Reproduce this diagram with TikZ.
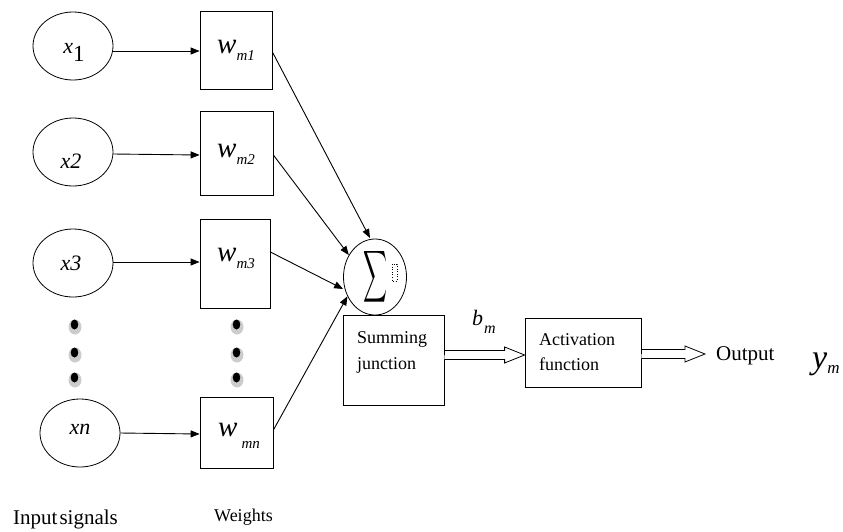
\documentclass[tikz,border=0pt]{standalone}
\usepackage{fontspec}
\usepackage{graphicx}
\setmainfont{Liberation Serif}
\usetikzlibrary{shapes.geometric,arrows.meta,calc}
\begin{document}
\begin{tikzpicture}[x=1pt,y=-1pt,
  inp/.style={draw,ellipse,line width=0.8pt,minimum width=80pt,minimum height=68pt,inner sep=0pt},
  wbox/.style={draw,rectangle,line width=0.8pt,inner sep=0pt},
  conn/.style={line width=0.9pt,-{Triangle[length=9pt,width=7pt]}},
  lbl/.style={font=\fontsize{18}{20}\selectfont,inner sep=0pt,anchor=base west},
  wtxt/.style={font=\fontsize{29}{30}\selectfont\itshape,inner sep=0pt},
  xtxt/.style={font=\fontsize{22}{24}\selectfont\itshape,inner sep=0pt},
  hollow/.style={line width=0.8pt,fill=white}
]
\useasboundingbox (0,0) rectangle (843,531);

% input ellipses
\node[inp] (x1) at (73,46) {};
\node[inp] (x2) at (73,152) {};
\node[inp] (x3) at (73,263) {};
\node[inp] (xn) at (80,433) {};
\node[xtxt] at (74,52) {x\raisebox{-8pt}{\upshape\fontsize{23}{24}\selectfont 1}};
\node[xtxt] at (71,161) {x2};
\node[xtxt] at (71,263) {x3};
\node[xtxt] at (80,429) {xn};

% weight boxes
\node[wbox,minimum width=72pt,minimum height=78pt] (w1) at (236,50) {};
\node[wbox,minimum width=73pt,minimum height=84pt] (w2) at (236.5,153) {};
\node[wbox,minimum width=70pt,minimum height=89pt] (w3) at (235,263.5) {};
\node[wbox,minimum width=73pt,minimum height=71pt] (wn) at (236.5,432.5) {};
\node[wtxt] at (236,50) {w\raisebox{-7pt}{\fontsize{15}{16}\selectfont m1}};
\node[wtxt] at (236,154) {w\raisebox{-7pt}{\fontsize{15}{16}\selectfont m2}};
\node[wtxt] at (236,258) {w\raisebox{-7pt}{\fontsize{15}{16}\selectfont m3}};
\node[wtxt] at (239,436) {w\hspace{4pt}\raisebox{-12pt}{\fontsize{15}{16}\selectfont mn}};

% input to weight connectors
\draw[conn] (x1.east |- 0,51) -- (w1.west |- 0,51);
\draw[conn] (x2.east |- 0,154) -- (w2.west |- 0,155);
\draw[conn] (x3.east |- 0,262) -- (w3.west |- 0,262);
\draw[conn] (xn.east) -- (wn.west |- 0,434);

% dots
\foreach \xx in {75,237}{
  \foreach \yy in {325,353,378}{
    \fill[gray!40] (\xx,\yy+2) circle[x radius=6.5pt,y radius=7.5pt];
    \fill[black] (\xx-0.5,\yy-0.5) circle[x radius=3.8pt,y radius=5pt];
  }
}

% summing circle
\node[draw,ellipse,line width=0.8pt,minimum width=63pt,minimum height=76pt,inner sep=0pt] (sig) at (375,277) {};
\node[inner sep=0pt] (sigma) at (375,277) {\resizebox{24pt}{38pt}{$\displaystyle\sum$}};
\draw[dotted,line width=0.6pt] (392,264) rectangle (397,281);

% weight to sum connectors
\draw[conn] (w1.east |- 0,52) -- (370,238);
\draw[conn] (w2.east |- 0,155) -- (sig.140);
\draw[conn] (w3.east |- 0,252) -- (sig.west |- 0,289);
\draw[conn] (wn.east |- 0,430) -- (sig.-145);

% summing junction box
\node[wbox,minimum width=101pt,minimum height=90pt] (sj) at (393.5,360) {};
\node[lbl] (sj1) at (357,343) {Summing};
\node[lbl] (sj2) at (357,369) {junction};

% activation box
\node[wbox,minimum width=116pt,minimum height=69pt] (act) at (583,352.5) {};
\node[lbl] (ac1) at (539,345) {Activation};
\node[lbl] (ac2) at (539,370) {function};

% hollow arrows
\coordinate (a1s) at (sj.east |- 0,355);
\coordinate (a1e) at (act.west |- 0,355);
\draw[hollow] (a1s) -- ++(0,-4.5) -- ($(a1e)+(-20,-4.5)$) -- ($(a1e)+(-20,-8)$) -- (a1e) -- ($(a1e)+(-20,8)$) -- ($(a1e)+(-20,4.5)$) -- ($(a1s)+(0,4.5)$);
\coordinate (a2s) at (act.east |- 0,354);
\coordinate (a2e) at (705,354);
\draw[hollow] (a2s) -- ++(0,-4.5) -- ($(a2e)+(-20,-4.5)$) -- ($(a2e)+(-20,-8)$) -- (a2e) -- ($(a2e)+(-20,8)$) -- ($(a2e)+(-20,4.5)$) -- ($(a2s)+(0,4.5)$);

% labels
\node[inner sep=0pt,font=\fontsize{22}{24}\selectfont\itshape,anchor=base west] (bm) at (472,325) {b\raisebox{-8pt}{\fontsize{16}{16}\selectfont\hspace{1pt}m}};
\node[inner sep=0pt,font=\fontsize{21}{24}\selectfont,anchor=base west] (out) at (716,360) {Output};
\node[inner sep=0pt,font=\fontsize{34}{36}\selectfont\itshape,anchor=base west] (ym) at (812,368) {y\raisebox{-5pt}{\fontsize{17}{18}\selectfont m}};
\node[inner sep=0pt,font=\fontsize{21}{24}\selectfont,anchor=base west] (insig) at (13,524) {Input\hspace{2pt}signals};
\node[inner sep=0pt,font=\fontsize{18}{20}\selectfont,anchor=base west] (wlab) at (214,521) {Weights};
\end{tikzpicture}
\end{document}
